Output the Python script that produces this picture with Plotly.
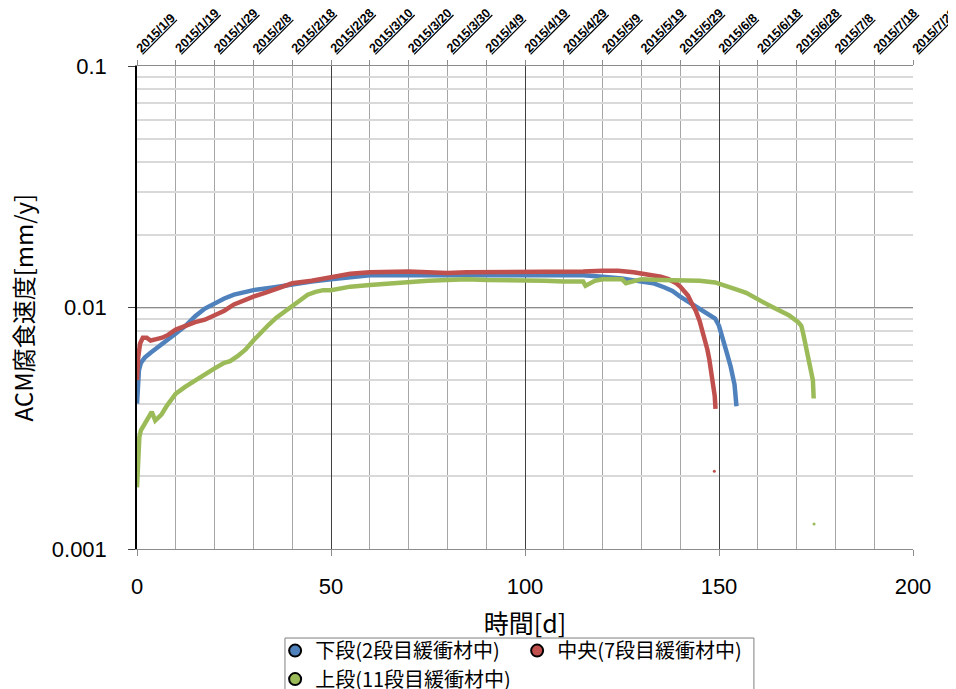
import plotly.graph_objects as go

# ---- data ----
top_days = list(range(0, 201, 10))
top_dates = ["2015/1/9", "2015/1/19", "2015/1/29", "2015/2/8", "2015/2/18", "2015/2/28",
             "2015/3/10", "2015/3/20", "2015/3/30", "2015/4/9", "2015/4/19", "2015/4/29",
             "2015/5/9", "2015/5/19", "2015/5/29", "2015/6/8", "2015/6/18", "2015/6/28",
             "2015/7/8", "2015/7/18", "2015/7/28"]

names = ["下段(2段目緩衝材中)", "中央(7段目緩衝材中)", "上段(11段目緩衝材中)"]
colors = ["#4F81BD", "#C0504D", "#9BBB59"]
y_title = "ACM腐食速度[mm/y]"
x_title = "時間[d]"

lower_x = [0, 0.2, 0.5, 1, 2, 3.5, 5, 7, 10, 12.5, 15, 17.5, 20, 22.5, 25, 27.5, 30, 35, 40,
           45, 50, 55, 60, 65, 70, 75, 80, 85, 90, 95, 100, 105, 110, 115, 120, 125, 130, 133,
           136, 138, 140, 142, 144, 146, 148, 149, 150, 151, 152, 153, 154, 154.5]
lower_y = [0.0040, 0.0046, 0.0055, 0.0059, 0.0062, 0.0065, 0.0068, 0.0072, 0.0078, 0.0084,
           0.0092, 0.0099, 0.0104, 0.0109, 0.0113, 0.0116, 0.0118, 0.0121, 0.0125, 0.0128,
           0.0131, 0.0134, 0.0136, 0.0136, 0.0136, 0.0137, 0.0137, 0.0137, 0.0137, 0.0137,
           0.0137, 0.0137, 0.0136, 0.0136, 0.0134, 0.0132, 0.0128, 0.0126, 0.0121, 0.0117,
           0.0111, 0.0106, 0.0101, 0.0097, 0.0093, 0.0090, 0.0084, 0.0075, 0.0065, 0.0057,
           0.0048, 0.0039]

middle_x = [0, 0.3, 0.8, 1.5, 2.5, 3.5, 5, 6.5, 8, 10, 12.5, 15, 17.5, 20, 22.5, 25, 27.5, 30,
            33, 36, 40, 45, 50, 55, 60, 65, 70, 75, 80, 85, 90, 95, 100, 105, 110, 115, 120,
            124, 128, 132, 135, 137, 139, 140, 141, 142, 143, 144, 145, 146, 147, 147.5, 148,
            148.5, 148.9, 149.1]
middle_y = [0.0050, 0.0062, 0.0071, 0.0075, 0.0075, 0.0073, 0.0074, 0.0075, 0.0077, 0.0081,
            0.0084, 0.0087, 0.0089, 0.0093, 0.0097, 0.0103, 0.0107, 0.0111, 0.0115, 0.0120,
            0.0126, 0.0129, 0.0134, 0.0138, 0.0140, 0.0141, 0.0141, 0.0140, 0.0139, 0.0140,
            0.0140, 0.0140, 0.0141, 0.0141, 0.0141, 0.0141, 0.0142, 0.0142, 0.0140, 0.0137,
            0.0134, 0.0131, 0.0126, 0.0122, 0.0117, 0.0112, 0.0104, 0.0097, 0.0088, 0.0078,
            0.0067, 0.0061, 0.0055, 0.0048, 0.0043, 0.0038]
middle_out_x = [148.8]
middle_out_y = [0.0021]

upper_x = [0, 0.2, 0.4, 0.6, 1, 2, 3, 3.8, 4.7, 5.5, 6.3, 7.6, 9, 10, 12.5, 15, 17.5, 20, 22.5,
           24, 26, 28, 30, 32, 34, 36, 38, 40, 42, 44, 46, 48, 50, 55, 60, 65, 70, 75, 80, 85,
           90, 95, 100, 105, 110, 115, 115.6, 118, 120, 125, 126, 130, 135, 140, 145, 149, 152,
           155, 157, 159, 161, 163.5, 166, 168, 170.4, 171.2, 171.7, 172.3, 173, 173.5, 173.9,
           174.2, 174.4]
upper_y = [0.0018, 0.0022, 0.0026, 0.0029, 0.0031, 0.0033, 0.0035, 0.0037, 0.0034, 0.0035,
           0.0036, 0.0039, 0.0042, 0.0044, 0.0047, 0.0050, 0.0053, 0.0056, 0.0059, 0.0060,
           0.0063, 0.0067, 0.0073, 0.0079, 0.0085, 0.0091, 0.0096, 0.0102, 0.0108, 0.0113,
           0.0116, 0.0118, 0.0118, 0.0122, 0.0124, 0.0126, 0.0127, 0.0129, 0.0130, 0.0131,
           0.0130, 0.0130, 0.0129, 0.0129, 0.0128, 0.0128, 0.0123, 0.0129, 0.0131, 0.0131,
           0.0126, 0.0131, 0.0130, 0.0130, 0.0129, 0.0127, 0.0123, 0.0118, 0.0115, 0.0111,
           0.0106, 0.0101, 0.0097, 0.0093, 0.0087, 0.0084, 0.0078, 0.0070, 0.0063, 0.0058,
           0.0054, 0.0050, 0.0042]
upper_out_x = [174.5]
upper_out_y = [0.00127]

# ---- figure ----
CJK = "Noto Sans CJK JP"
NUM = "Liberation Sans"

fig = go.Figure()
series = [(lower_x, lower_y), (middle_x, middle_y), (upper_x, upper_y)]
for (xs, ys), c in zip(series, colors):
    fig.add_trace(go.Scatter(x=xs, y=ys, mode="lines", line=dict(color=c, width=4.5),
                             showlegend=False, hoverinfo="skip"))
fig.add_trace(go.Scatter(x=middle_out_x, y=middle_out_y, mode="markers",
                         marker=dict(color=colors[1], size=3), showlegend=False))
fig.add_trace(go.Scatter(x=upper_out_x, y=upper_out_y, mode="markers",
                         marker=dict(color=colors[2], size=3), showlegend=False))

# legend entries (on the top axis so it is drawn)
legend_ids = ["legend", "legend", "legend2"]
for n, c, lg in zip(names, colors, legend_ids):
    fig.add_trace(go.Scatter(x=[None], y=[None], xaxis="x2", mode="markers", name=n,
                             marker=dict(color=c, size=12, line=dict(color="black", width=1.5)),
                             legend=lg))

fig.update_layout(
    width=948, height=681,
    margin=dict(l=129, r=43, t=58, b=140, autoexpand=False),
    plot_bgcolor="white", paper_bgcolor="white",
    font=dict(family=NUM, color="black"),
    xaxis=dict(range=[0, 200], tick0=0, dtick=50, showgrid=True, gridcolor="#404040",
               gridwidth=1, zeroline=False, showline=True, linecolor="#8c8c8c",
               ticks="outside", ticklen=6, tickcolor="#8c8c8c",
               tickfont=dict(size=22, family=NUM), ticklabelstandoff=12,
               minor=dict(dtick=10, tick0=0, showgrid=True, gridcolor="#a6a6a6", gridwidth=1),
               title=dict(text=x_title, font=dict(size=25, family=CJK), standoff=17)),
    xaxis2=dict(range=[0, 200], overlaying="x", side="top", anchor="y",
                tickvals=top_days, ticktext=["<b><u>" + d + "</u></b>" for d in top_dates],
                tickangle=-45, ticks="outside", ticklen=5, tickcolor="#8c8c8c",
                showline=True, linecolor="#8c8c8c", showgrid=False, zeroline=False,
                ticklabeloverflow="allow", ticklabelstandoff=0,
                tickfont=dict(size=12.5, family=NUM, color="black")),
    yaxis=dict(type="log", range=[-3, -1], tickvals=[0.001, 0.01, 0.1],
               ticktext=["0.001", "0.01", "0.1"], showgrid=True, gridcolor="#8c8c8c",
               gridwidth=1, zeroline=False, showline=True, linecolor="black", linewidth=1.5,
               ticks="outside", ticklen=7, tickcolor="#404040",
               tickfont=dict(size=22, family=NUM), ticklabelstandoff=17,
               minor=dict(dtick="D1", showgrid=True, gridcolor="#d9d9d9", gridwidth=2)),
    annotations=[dict(text=y_title, xref="paper", yref="paper", x=0, y=0.5,
                      xanchor="center", yanchor="middle", xshift=-115, textangle=-90,
                      showarrow=False, font=dict(size=24, family=CJK, color="black"))],
    legend=dict(orientation="h", x=0.178, y=-0.170, xanchor="left", yanchor="top",
                font=dict(size=20, family=CJK), bgcolor="rgba(0,0,0,0)",
                itemsizing="constant", itemwidth=30, entrywidth=197),
    legend2=dict(orientation="h", x=0.178, y=-0.229, xanchor="left", yanchor="top",
                 font=dict(size=20, family=CJK), bgcolor="rgba(0,0,0,0)",
                 itemsizing="constant", itemwidth=30),
    shapes=[dict(type="rect", xref="paper", yref="paper", x0=0.1907, x1=0.795,
                 y0=-0.40, y1=-0.1843, line=dict(color="#7f7f7f", width=1),
                 fillcolor="rgba(0,0,0,0)")],
    showlegend=True,
)

fig.write_html("out.html")
